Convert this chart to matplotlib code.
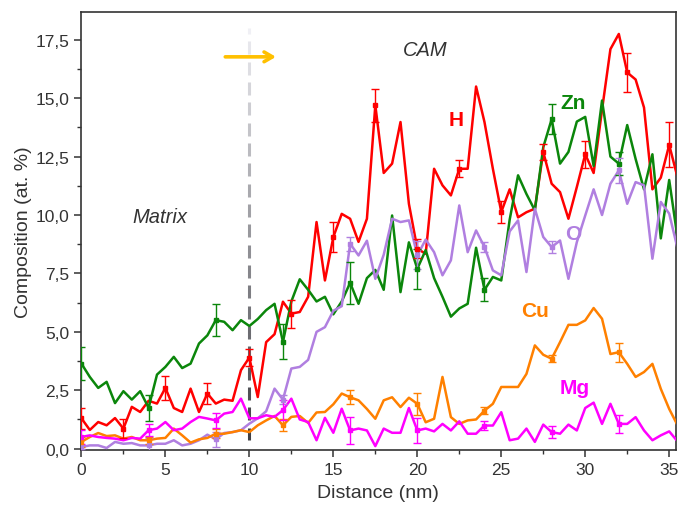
import matplotlib
matplotlib.use("Agg")
import matplotlib.pyplot as plt
import numpy as np
from matplotlib.ticker import FuncFormatter, MultipleLocator

plt.rcParams["font.family"] = ["Liberation Sans", "DejaVu Sans"]

# distance axis, one reading every 0.5 nm
distance = np.arange(0, 36, 0.5)

h = [1.3, 0.8, 1.14, 1.0, 1.31, 0.86, 1.79, 1.57, 2.05, 1.93,
     2.6, 1.74, 1.57, 2.57, 1.57, 2.36, 1.93, 2.1, 2.05, 3.36,
     3.9, 2.21, 4.56, 4.9, 6.29, 5.78, 5.85, 6.5, 9.7, 7.2,
     9.06, 10.05, 9.84, 8.85, 9.84, 14.7, 11.8, 12.2, 13.98, 10.48,
     8.56, 8.34, 11.98, 11.27, 10.84, 11.98, 11.98, 15.5, 13.98, 11.98,
     10.13, 11.1, 9.9, 10.12, 10.27, 12.7, 11.34, 10.98, 9.84, 11.2,
     12.6, 11.8, 14.5, 17.1, 17.75, 16.1, 15.8, 14.6, 11.1, 11.6,
     13.0, 11.6]
zn = [3.64, 3.07, 2.6, 2.86, 1.95, 2.46, 2.1, 2.46, 1.75, 3.17,
      3.5, 3.93, 3.45, 3.64, 4.5, 4.85, 5.5, 5.43, 5.07, 5.5,
      5.25, 5.55, 5.93, 6.2, 4.57, 6.3, 7.25, 6.8, 6.3, 6.5,
      5.75, 6.3, 7.1, 6.2, 7.3, 7.65, 6.8, 9.98, 6.7, 8.83,
      7.7, 8.5, 7.3, 6.5, 5.65, 6.0, 6.2, 8.6, 6.8, 7.35,
      7.2, 9.8, 11.7, 10.9, 10.2, 12.9, 14.1, 12.2, 12.7, 14.0,
      14.2, 12.1, 14.9, 12.5, 12.2, 13.85, 12.4, 11.1, 12.6, 9.0,
      11.5, 9.0]
o = [0.07, 0.14, 0.14, 0.03, 0.29, 0.21, 0.24, 0.14, 0.14, 0.21,
     0.21, 0.36, 0.14, 0.21, 0.36, 0.6, 0.4, 0.67, 0.71, 0.79,
     1.07, 1.3, 1.6, 2.57, 2.1, 3.43, 3.5, 3.8, 5.0, 5.2,
     5.9, 6.1, 8.77, 8.27, 8.9, 7.27, 8.3, 9.84, 9.7, 9.77,
     8.27, 8.95, 8.41, 7.42, 8.06, 10.41, 8.41, 9.34, 8.63, 7.63,
     7.42, 9.3, 9.77, 7.56, 10.27, 9.06, 8.63, 8.91, 7.27, 8.84,
     9.98, 11.1, 10.0, 11.34, 11.91, 10.48, 11.41, 11.27, 8.13, 10.56,
     10.06, 8.56]
cu = [0.29, 0.5, 0.67, 0.54, 0.57, 0.43, 0.5, 0.36, 0.36, 0.43,
      0.46, 0.86, 0.57, 0.26, 0.4, 0.46, 0.64, 0.64, 0.71, 0.79,
      0.71, 1.0, 1.21, 1.4, 1.0, 1.36, 1.4, 1.1, 1.55, 1.57,
      1.9, 2.36, 2.2, 2.07, 1.7, 1.28, 2.07, 2.2, 1.78, 2.18,
      1.92, 1.13, 1.28, 3.07, 1.35, 1.06, 1.21, 1.25, 1.63, 1.92,
      2.64, 2.64, 2.64, 3.2, 4.42, 4.02, 3.85, 4.56, 5.3, 5.3,
      5.49, 6.02, 5.56, 4.05, 4.13, 3.63, 3.07, 3.28, 3.63, 2.56,
      1.7, 1.0]
mg = [0.5, 0.57, 0.5, 0.46, 0.43, 0.36, 0.46, 0.43, 0.79, 0.86,
      1.14, 0.79, 0.86, 1.14, 1.36, 1.29, 1.21, 1.5, 1.57, 2.14,
      1.3, 1.3, 1.43, 1.36, 1.65, 2.14, 1.25, 1.14, 0.36, 1.32,
      0.68, 1.71, 0.78, 0.86, 0.78, 0.11, 0.86, 0.68, 0.68, 1.74,
      0.78, 0.86, 0.74, 1.06, 0.78, 1.17, 0.64, 0.64, 0.99, 0.99,
      1.56, 0.36, 0.43, 0.86, 0.29, 1.03, 0.71, 0.64, 1.03, 0.78,
      1.74, 1.97, 1.06, 1.92, 1.06, 1.06, 1.35, 0.78, 0.36, 0.57,
      0.74, 0.31]

# error bars: H every 2.5 nm, the others every 4 nm
h_err_x = [0, 2.5, 5, 7.5, 10, 12.5, 15, 17.5, 20, 22.5, 25, 27.5, 30, 32.5, 35]
h_err = [0.46, 0.4, 0.5, 0.43, 0.35, 0.6, 0.64, 0.71, 0.4, 0.36, 0.46, 0.36, 0.57, 0.82, 0.96]
err_x = [0, 4, 8, 12, 16, 20, 24, 28, 32]
zn_err = [0.7, 0.55, 0.68, 0.75, 0.9, 0.86, 0.5, 0.64, 0.5]
o_err = [0.1, 0.3, 0.32, 0.2, 0.3, 0.6, 0.2, 0.25, 0.53]
cu_err = [0.2, 0.15, 0.2, 0.25, 0.3, 0.46, 0.15, 0.15, 0.41]
mg_err = [0.28, 0.25, 0.32, 0.43, 0.57, 0.53, 0.2, 0.27, 0.4]

series = [
    ("H", h, h_err_x, h_err, "#ff0000", (22.3, 14.1)),
    ("Zn", zn, err_x, zn_err, "#0b860b", (29.3, 14.8)),
    ("O", o, err_x, o_err, "#b07fe0", (29.3, 9.2)),
    ("Cu", cu, err_x, cu_err, "#ff8000", (27.0, 5.9)),
    ("Mg", mg, err_x, mg_err, "#ff00ff", (29.4, 2.6)),
]

fig, ax = plt.subplots(figsize=(6.8, 5.1), dpi=100)
fig.subplots_adjust(left=0.119, right=0.994, top=0.975, bottom=0.116)

# interface marker at 10 nm: dashed line fading from dark (bottom) to light (top)
y0, y1, dash, gap = 0.35, 18.0, 0.55, 0.32
pos = y0
while pos < y1:
    frac = (pos - y0) / (y1 - y0)
    grey = 0.25 + 0.7 * frac
    ax.plot([10, 10], [pos, min(pos + dash, y1)], color=(grey, grey, min(grey + 0.02, 1)),
            lw=2.2, solid_capstyle="butt", zorder=1)
    pos += dash + gap

for name, vals, ex, ee, color, lab in series:
    vals = np.asarray(vals)
    ax.plot(distance, vals, color=color, lw=1.8, zorder=3)
    ey = np.interp(ex, distance, vals)
    ax.errorbar(ex, ey, yerr=ee, fmt="s", color=color, ms=3.5, elinewidth=1.0,
                capsize=3, capthick=1.0, zorder=4)
    ax.text(lab[0], lab[1], name, color=color, fontsize=15, fontweight="bold",
            ha="center", va="center")

ax.text(4.7, 9.95, "Matrix", fontsize=14.5, style="italic", color="#333333",
        ha="center", va="center")
ax.text(20.5, 17.1, "CAM", fontsize=14.5, style="italic", color="#333333",
        ha="center", va="center")
ax.annotate("", xy=(11.75, 16.77), xytext=(8.4, 16.77),
            arrowprops=dict(arrowstyle="->,head_length=0.6,head_width=0.35",
                            color="#ffc000", lw=2.6))

ax.set_xlim(-0.03, 35.4)
ax.set_ylim(-0.05, 18.7)
ax.xaxis.set_major_locator(MultipleLocator(5))
ax.xaxis.set_minor_locator(MultipleLocator(2.5))
ax.yaxis.set_major_locator(MultipleLocator(2.5))
ax.yaxis.set_minor_locator(MultipleLocator(1.25))
ax.yaxis.set_major_formatter(FuncFormatter(lambda v, p: f"{v:.1f}".replace(".", ",")))
ax.tick_params(axis="both", which="major", labelsize=12.5, length=5, width=1.1,
               colors="#333333", labelcolor="#333333")
ax.tick_params(axis="both", which="minor", length=3, width=1.0, colors="#333333")
for sp in ax.spines.values():
    sp.set_color("#333333")
    sp.set_linewidth(1.2)

ax.set_xlabel("Distance (nm)", fontsize=14, color="#333333", labelpad=5)
ax.set_ylabel("Composition (at. %)", fontsize=14, color="#333333", labelpad=2)

fig.savefig("out.png", dpi=100)
